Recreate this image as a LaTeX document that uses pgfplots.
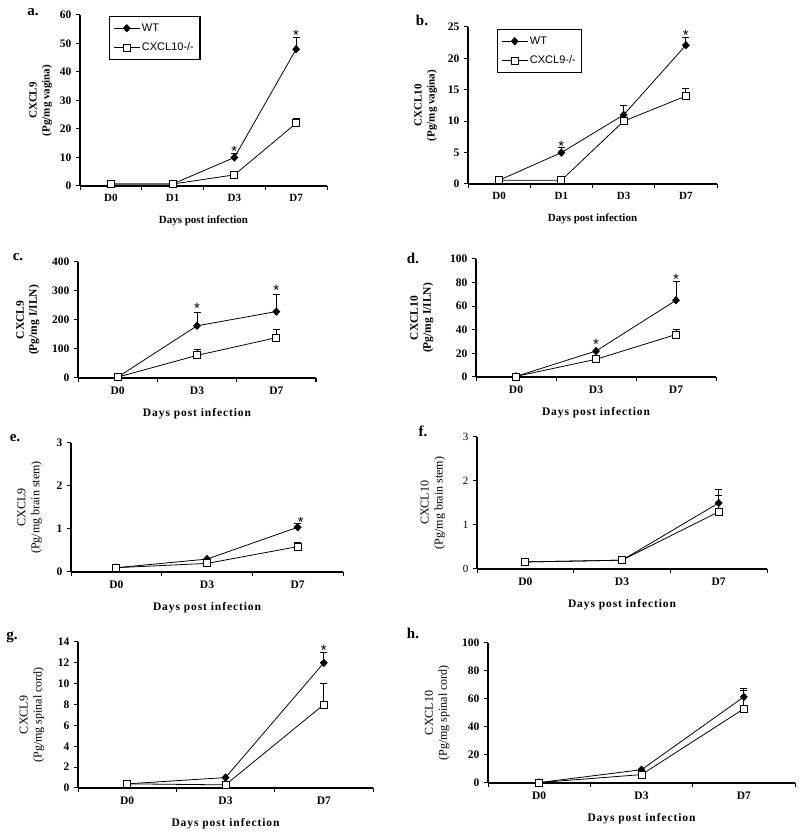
\documentclass[border=0pt]{standalone}
\usepackage{fontspec}
\setmainfont{Liberation Serif}
\newfontfamily\arialf{Liberation Sans}
\newfontfamily\spacedf[LetterSpace=8]{Liberation Serif}
\usepackage{pgfplots}
\pgfplotsset{compat=1.18}

\pgfplotsset{
  panel/.style={
    scale only axis,
    anchor=south west,
    axis x line*=bottom,
    axis y line*=left,
    axis line style={line width=1.3pt},
    tick align=outside,
    major tick length=4pt,
    tick style={line width=1pt, black},
    /pgf/number format/assume math mode=true,
    yticklabel style={font=\bfseries\fontsize{11.5}{12}\selectfont, xshift=-1pt},
    xticklabel style={font=\bfseries\fontsize{11.5}{12}\selectfont, yshift=-5pt},
    xtick={-0.5,0.5,1.5,2.5,3.5},
    xticklabels={,,,,},
    extra x tick style={major tick length=0pt},
    ymin=0, xmin=-0.5,
    clip=false,
    ylabel style={align=center},
    xlabel={Days post infection},
    xlabel style={font=\spacedf\bfseries\fontsize{11.5}{13}\selectfont, yshift=-3pt},
    legend image code/.code={\draw[mark repeat=2,mark phase=2,##1] plot coordinates {(0cm,0cm) (0.45cm,0cm) (0.9cm,0cm)};},
  },
  wt/.style={black, line width=0.8pt, mark=diamond*, mark size=3.6pt,
    mark options={fill=black, solid, xscale=1.25},
    error bars/.cd, y dir=plus, y explicit,
    error bar style={line width=0.8pt},
    error mark options={rotate=90, mark size=3.5pt, line width=0.8pt}},
  ko/.style={black, line width=0.8pt, mark=square*, mark size=3.5pt,
    mark options={fill=white, solid},
    error bars/.cd, y dir=plus, y explicit,
    error bar style={line width=0.8pt},
    error mark options={rotate=90, mark size=3.5pt, line width=0.8pt}},
  leg/.style={legend style={at={(0.117,0.994)}, anchor=north west, draw=black, line width=1.3pt,
    font=\arialf\fontsize{11}{13}\selectfont, inner xsep=4pt, inner ysep=5pt, row sep=6pt, cells={anchor=west}}},
}
\tikzset{
  lab/.style={font=\bfseries\fontsize{15}{15}\selectfont},
  star/.style={font=\arialf\fontsize{15}{15}\selectfont, yshift=-3pt},
}

\begin{document}
\begin{tikzpicture}
\path[use as bounding box] (0,0) rectangle (800pt,832pt);

% ---------- a ----------
\node[lab] at (33pt,820pt) {a.};
\begin{axis}[panel, leg, at={(80pt,646pt)}, width=247pt, height=171pt,
  xmax=3.5, ymax=60, ytick={0,10,...,60},
  extra x ticks={0,1,2,3}, extra x tick labels={D0,D1,D3,D7},
  ylabel={CXCL9\\(Pg/mg vagina)}, ylabel shift=1pt,
  ylabel style={font=\bfseries\fontsize{11}{13}\selectfont},
  xlabel style={font=\bfseries\fontsize{11}{13}\selectfont},
  xticklabel style={font=\bfseries\fontsize{11}{12}\selectfont}]
\addplot[wt] coordinates {(0,0.7) (1,0.7) (2,10) +- (0,1.3) (3,48) +- (0,4)};
\addlegendentry{WT}
\addplot[ko] coordinates {(0,0.7) (1,0.7) (2,3.9) (3,22) +- (0,1.8)};
\addlegendentry{CXCL10-/-}
\node[star] at (axis cs:2,13.3) {*};
\node[star] at (axis cs:3,54) {*};
\end{axis}

% ---------- b ----------
\node[lab] at (422pt,812pt) {b.};
\begin{axis}[panel, leg, at={(468pt,648pt)}, width=249pt, height=157pt,
  legend style={at={(0.116,0.987)}},
  xmax=3.5, ymax=25, ytick={0,5,...,25},
  extra x ticks={0,1,2,3}, extra x tick labels={D0,D1,D3,D7},
  ylabel={CXCL10\\(Pg/mg vagina)}, ylabel shift=4pt,
  ylabel style={font=\bfseries\fontsize{11}{13}\selectfont},
  xlabel style={font=\bfseries\fontsize{11}{13}\selectfont},
  xticklabel style={font=\bfseries\fontsize{11}{12}\selectfont}]
\addplot[wt] coordinates {(0,0.6) (1,5.0) +- (0,0.8) (2,11) +- (0,1.5) (3,22.1) +- (0,1.3)};
\addlegendentry{WT}
\addplot[ko] coordinates {(0,0.6) (1,0.6) (2,10) (3,14) +- (0,1.3)};
\addlegendentry{CXCL9-/-}
\node[star] at (axis cs:1,6.5) {*};
\node[star] at (axis cs:3,24.2) {*};
\end{axis}

% ---------- c ----------
\node[lab] at (18pt,575pt) {c.};
\begin{axis}[panel, at={(78pt,454pt)}, width=238pt, height=116pt,
  xmax=2.5, ymax=400, ytick={0,100,...,400},
  extra x ticks={0,1,2}, extra x tick labels={D0,D3,D7},
  ylabel={CXCL9\\(Pg/mg I/ILN)}, ylabel shift=6pt,
  ylabel style={font=\bfseries\fontsize{11.5}{13}\selectfont}]
\addplot[wt] coordinates {(0,3) (1,180) +- (0,45) (2,229) +- (0,58)};
\addplot[ko] coordinates {(0,3) (1,78) +- (0,20) (2,139) +- (0,28)};
\node[star] at (axis cs:1,251) {*};
\node[star] at (axis cs:2,311) {*};
\end{axis}

% ---------- d ----------
\node[lab] at (413pt,574pt) {d.};
\begin{axis}[panel, at={(476pt,455pt)}, width=240pt, height=118pt,
  xmax=2.5, ymax=100, ytick={0,20,...,100},
  extra x ticks={0,1,2}, extra x tick labels={D0,D3,D7},
  ylabel={CXCL10\\(Pg/mg I/ILN)}, ylabel shift=10pt,
  ylabel style={font=\bfseries\fontsize{11.5}{13}\selectfont}]
\addplot[wt] coordinates {(0,0.5) (1,22) (2,65) +- (0,16)};
\addplot[ko] coordinates {(0,0.5) (1,15) (2,36) +- (0,4)};
\node[star] at (axis cs:1,30) {*};
\node[star] at (axis cs:2,85) {*};
\end{axis}

% ---------- e ----------
\node[lab] at (15pt,394pt) {e.};
\begin{axis}[panel, at={(71pt,260pt)}, width=272pt, height=129pt,
  xmax=2.5, ymax=3, ytick={0,1,2,3},
  extra x ticks={0,1,2}, extra x tick labels={D0,D3,D7},
  ylabel={CXCL9\\(Pg/mg brain stem)}, ylabel shift=8pt,
  ylabel style={font=\fontsize{12}{14}\selectfont}]
\addplot[wt] coordinates {(0,0.1) (1,0.3) (2,1.04) +- (0,0.08)};
\addplot[ko] coordinates {(0,0.1) (1,0.2) (2,0.59) +- (0,0.1)};
\node[star, xshift=3pt] at (axis cs:2,1.23) {*};
\end{axis}

% ---------- f ----------
\node[lab] at (423pt,401pt) {f.};
\begin{axis}[panel, at={(477pt,263pt)}, width=290pt, height=132pt,
  xmax=2.5, ymax=3, ytick={0,1,2,3},
  yticklabel style={font=\fontsize{11}{12}\selectfont},
  extra x ticks={0,1,2}, extra x tick labels={D0,D3,D7},
  ylabel={CXCL10\\(Pg/mg brain stem)}, ylabel shift=11pt,
  ylabel style={font=\fontsize{12}{14}\selectfont}]
\addplot[wt] coordinates {(0,0.16) (1,0.2) (2,1.5) +- (0,0.3)};
\addplot[ko] coordinates {(0,0.16) (1,0.2) (2,1.3) +- (0,0.38)};
\end{axis}

% ---------- g ----------
\node[lab] at (12pt,195pt) {g.};
\begin{axis}[panel, at={(78pt,44pt)}, width=295pt, height=146pt,
  xmax=2.5, ymax=14, ytick={0,2,...,14},
  extra x ticks={0,1,2}, extra x tick labels={D0,D3,D7},
  ylabel={CXCL9\\(Pg/mg spinal cord)}, ylabel shift=7pt,
  ylabel style={font=\fontsize{12}{14}\selectfont}]
\addplot[wt] coordinates {(0,0.4) (1,1.0) (2,12) +- (0,1)};
\addplot[ko] coordinates {(0,0.4) (1,0.3) (2,8) +- (0,2)};
\node[star] at (axis cs:2,13.5) {*};
\end{axis}

% ---------- h ----------
\node[lab] at (413pt,199pt) {h.};
\begin{axis}[panel, at={(488pt,49pt)}, width=307pt, height=140pt,
  xmax=2.5, ymax=100, ytick={0,20,...,100},
  extra x ticks={0,1,2}, extra x tick labels={D0,D3,D7},
  ylabel={CXCL10\\(Pg/mg spinal cord)}, ylabel shift=6pt,
  ylabel style={font=\fontsize{12}{14}\selectfont}]
\addplot[wt] coordinates {(0,0.3) (1,9.5) (2,61.5) +- (0,6)};
\addplot[ko] coordinates {(0,0.3) (1,6) (2,53) +- (0,13)};
\end{axis}

\end{tikzpicture}
\end{document}
